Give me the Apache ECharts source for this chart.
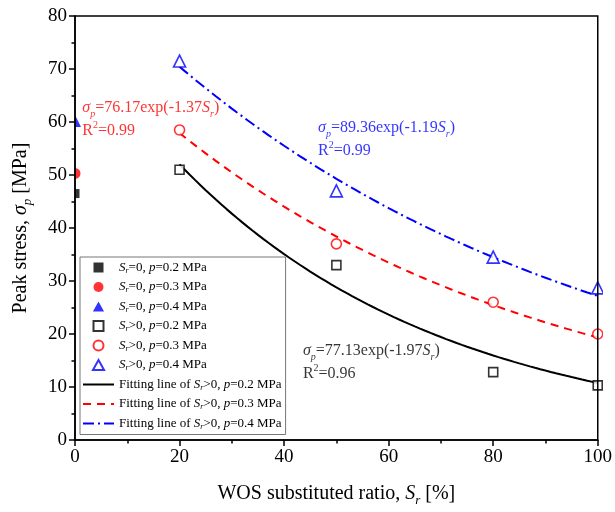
<!DOCTYPE html>
<html>
<head>
<meta charset="utf-8">
<script src="https://cdn.jsdelivr.net/npm/echarts@6/dist/echarts.min.js"></script>
<style>
  html, body { margin: 0; padding: 0; background: #fff; }
  #chart { width: 615px; height: 512px; }
</style>
</head>
<body>
<div id="chart"></div>
<script>
// ---- data ----
const xTicks = [0, 20, 40, 60, 80, 100];
const yTicks = [0, 10, 20, 30, 40, 50, 60, 70, 80];
const pressures = ['0.2', '0.3', '0.4'];
// peak stress at Sr = 0 for p = 0.2 / 0.3 / 0.4 MPa
const baseStress = [46.5, 50.3, 60.2];
// substitution ratios with WOS (%)
const ratios = [20, 50, 80, 100];
const stressP02 = [51.0, 33.0, 12.8, 10.3];
const stressP03 = [58.5, 37.0, 26.0, 20.0];
const stressP04 = [71.5, 47.0, 34.5, 28.7];
// fitted model sigma_p = a * exp(-b * Sr), Sr as a fraction
const fitA = [77.13, 76.17, 89.36];
const fitB = [1.97, 1.37, 1.19];
const fitR2 = ['0.96', '0.99', '0.99'];
const fitRange = [20, 100];
// equation label anchors [Sr %, MPa]
const labelAnchors = [[43.6, 14.6], [1.4, 60.5], [46.5, 56.7]];

// ---- style ----
const FONT = 'Liberation Serif';
const colors = ['#000000', '#ff0000', '#0000ff'];
const symbols = ['rect', 'circle', 'triangle'];
const legendIcons = ['path://M0,0L10,0L10,10L0,10Z', 'circle', 'path://M5,0L10,9L0,9Z'];
const filledSizes = [9, 11, 12];
const hollowSizes = [9, 10, 12];
const lineTypes = ['solid', [8, 6], [11, 4, 2, 4]];

const GRID = { left: 75, right: 12, top: 16, bottom: 72 };

const chart = echarts.init(document.getElementById('chart'), null, { renderer: 'canvas' });

function fitCurve(k) {
  const pts = [];
  for (let x = fitRange[0]; x <= fitRange[1]; x += 1) {
    pts.push([x, fitA[k] * Math.exp(-fitB[k] * x / 100)]);
  }
  return pts;
}

function richSet(color, size, lh) {
  return {
    n: { fontFamily: FONT, fontSize: size, color: color, lineHeight: lh, verticalAlign: 'middle' },
    i: { fontFamily: FONT, fontSize: size, color: color, fontStyle: 'italic', lineHeight: lh, verticalAlign: 'middle' },
    s: { fontFamily: FONT, fontSize: Math.round(size * 0.65), color: color, fontStyle: 'italic', lineHeight: lh, verticalAlign: 'bottom' },
    u: { fontFamily: FONT, fontSize: Math.round(size * 0.65), color: color, lineHeight: lh, verticalAlign: 'top', padding: [1, 0, 0, 0] }
  };
}

const series = [];
const legendData = [];

// filled markers: Sr = 0
pressures.forEach((p, k) => {
  const name = 'zero_' + p;
  legendData.push({ name, icon: legendIcons[k] });
  series.push({
    name, type: 'scatter', z: 2,
    symbol: symbols[k], symbolSize: filledSizes[k],
    itemStyle: { color: colors[k] },
    data: [[0, baseStress[k]]]
  });
});
// hollow markers: Sr > 0
const measured = [stressP02, stressP03, stressP04];
pressures.forEach((p, k) => {
  const name = 'pos_' + p;
  legendData.push({ name, icon: legendIcons[k] });
  series.push({
    name, type: 'scatter', z: 2,
    symbol: symbols[k], symbolSize: hollowSizes[k],
    itemStyle: { color: '#ffffff', borderColor: colors[k], borderWidth: 1.6 },
    data: ratios.map((r, i) => [r, measured[k][i]])
  });
});
// fitted curves (legend shows only the stroke, no marker)
pressures.forEach((p, k) => {
  const name = 'fit_' + p;
  legendData.push({ name, itemStyle: { opacity: 0 } });
  series.push({
    name, type: 'line', z: 1,
    showSymbol: false, symbol: 'none', smooth: false,
    lineStyle: { color: colors[k], width: 2, type: lineTypes[k] },
    itemStyle: { color: colors[k] },
    data: fitCurve(k)
  });
});
// equation labels
pressures.forEach((p, k) => {
  series.push({
    name: 'eq_' + p, type: 'scatter', z: 2, silent: true,
    symbolSize: 0,
    data: [labelAnchors[k]],
    label: {
      show: true, position: 'right', distance: 0, align: 'left', verticalAlign: 'middle',
      formatter: '{i|σ}{s|p}{n|=' + fitA[k].toFixed(2) + 'exp(-' + fitB[k].toFixed(2) + '}{i|S}{s|r}{n|)}\n{n|R}{u|2}{n|=' + fitR2[k] + '}',
      rich: richSet(colors[k], 16, 23)
    }
  });
});

function legendLabel(name) {
  const [kind, p] = name.split('_');
  if (kind === 'zero') return '{i|S}{s|r}{n|=0, }{i|p}{n|=' + p + ' MPa}';
  if (kind === 'pos') return '{i|S}{s|r}{n|>0, }{i|p}{n|=' + p + ' MPa}';
  return '{n|Fitting line of }{i|S}{s|r}{n|>0, }{i|p}{n|=' + p + ' MPa}';
}

const axisCommon = {
  axisLine: { show: true, onZero: false, lineStyle: { color: '#000', width: 1.5 } },
  axisTick: { show: true, inside: false, length: 6, lineStyle: { color: '#000', width: 1.5 } },
  minorTick: { show: true, splitNumber: 2, length: 3.5, lineStyle: { color: '#000', width: 1.5 } },
  splitLine: { show: false },
  axisLabel: { color: '#000', fontFamily: FONT, fontSize: 19, margin: 8 },
  nameLocation: 'middle',
  nameTextStyle: {
    color: '#000', fontFamily: FONT, fontSize: 20,
    rich: {
      i: { fontFamily: FONT, fontSize: 20, fontStyle: 'italic', color: '#000', lineHeight: 26, verticalAlign: 'middle' },
      s: { fontFamily: FONT, fontSize: 13, fontStyle: 'italic', color: '#000', lineHeight: 26, verticalAlign: 'bottom' },
      n: { fontFamily: FONT, fontSize: 20, color: '#000', lineHeight: 26, verticalAlign: 'middle' }
    }
  },
  z: 5
};

chart.setOption({
  animation: false,
  backgroundColor: '#ffffff',
  grid: Object.assign({ show: true, borderColor: '#000', borderWidth: 1.5, backgroundColor: 'transparent', z: 5 }, GRID),
  xAxis: Object.assign({}, axisCommon, {
    type: 'value', min: xTicks[0], max: xTicks[xTicks.length - 1], interval: 20,
    name: '{n|WOS substituted ratio, }{i|S}{s|r}{n| [%]}', nameGap: 41
  }),
  yAxis: Object.assign({}, axisCommon, {
    type: 'value', min: yTicks[0], max: yTicks[yTicks.length - 1], interval: 10,
    name: '{n|Peak stress, }{i|σ}{s|p}{n| [MPa]}', nameGap: 41
  }),
  legend: {
    data: legendData,
    orient: 'vertical', left: 80, top: 257,
    padding: [4, 4, 4, 2], itemGap: 6, itemWidth: 31, itemHeight: 10,
    symbolKeepAspect: true,
    borderColor: '#777', borderWidth: 1, backgroundColor: '#fff',
    inactiveColor: '#000', selectedMode: false,
    formatter: legendLabel,
    textStyle: { color: '#000', fontFamily: FONT, fontSize: 13, rich: richSet('#000', 13, 14) }
  },
  series: series
});

// white masks hide the marker halves that fall outside the plotting area
const W = chart.getWidth(), H = chart.getHeight();
chart.setOption({
  graphic: [
    { type: 'rect', z: 3, shape: { x: GRID.left - 20, y: GRID.top - 10, width: 20, height: H - GRID.top - GRID.bottom + 20 }, style: { fill: '#fff' }, silent: true },
    { type: 'rect', z: 3, shape: { x: W - GRID.right, y: GRID.top - 10, width: GRID.right, height: H - GRID.top - GRID.bottom + 20 }, style: { fill: '#fff' }, silent: true }
  ]
});
</script>
</body>
</html>
